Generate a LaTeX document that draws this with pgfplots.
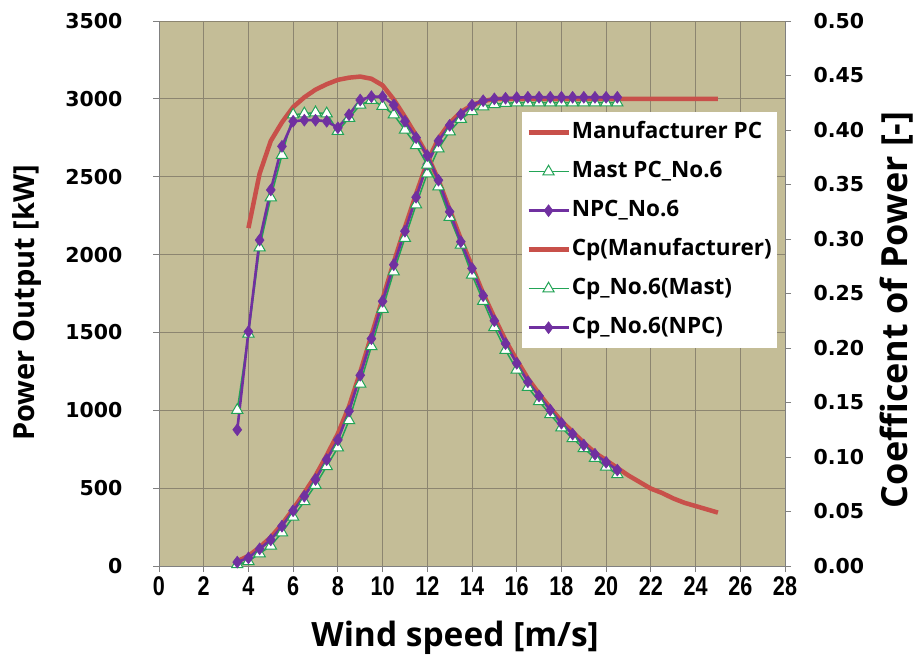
\documentclass[border=0pt]{standalone}
\usepackage{fontspec}
\setmainfont{Open Sans}
\newfontfamily\tickfont{DejaVu Sans}
\newfontfamily\xtickfont{Liberation Sans}[FakeStretch=0.8]
\usepackage{pgfplots}
\usepackage{pgfplotstable}
\pgfplotsset{compat=1.18}
\definecolor{bgc}{HTML}{C4BD97}
\definecolor{gridc}{HTML}{8C8570}
\definecolor{myred}{HTML}{C8504A}
\definecolor{mygreen}{HTML}{22A456}
\definecolor{mypurple}{HTML}{7030A0}

\pgfplotstableread{
x P
3.5 30
4.0 65
4.5 120
5.0 185
5.5 268
6.0 365
6.5 470
7.0 580
7.5 710
8.0 850
8.5 1025
9.0 1245
9.5 1480
10.0 1715
10.5 1950
11.0 2175
11.5 2390
12.0 2595
12.5 2745
13.0 2845
13.5 2915
14.0 2960
14.5 2985
15.0 3000
25.0 3000
}\manpc

\pgfplotstableread{
x P
3.5 10
4.0 30
4.5 80
5.0 130
5.5 215
6.0 315
6.5 415
7.0 520
7.5 640
8.0 760
8.5 935
9.0 1170
9.5 1410
10.0 1650
10.5 1890
11.0 2105
11.5 2320
12.0 2520
12.5 2680
13.0 2790
13.5 2870
14.0 2920
14.5 2950
15.0 2965
15.5 2972
16.0 2975
16.5 2975
17.0 2975
17.5 2975
18.0 2975
18.5 2975
19.0 2975
19.5 2975
20.0 2975
20.5 2975
}\mastpc

\pgfplotstableread{
x P
3.5 25
4.0 52
4.5 110
5.0 168
5.5 256
6.0 355
6.5 448
7.0 556
7.5 683
8.0 810
8.5 995
9.0 1225
9.5 1460
10.0 1700
10.5 1935
11.0 2150
11.5 2368
12.0 2580
12.5 2730
13.0 2830
13.5 2900
14.0 2960
14.5 2988
15.0 3000
15.5 3004
16.0 3008
16.5 3010
17.0 3010
17.5 3010
18.0 3010
18.5 3010
19.0 3010
19.5 3010
20.0 3010
20.5 3010
}\npcpc

\pgfplotstableread{
x C
4.0 0.310
4.5 0.360
5.0 0.390
5.5 0.407
6.0 0.421
6.5 0.430
7.0 0.437
7.5 0.442
8.0 0.446
8.5 0.448
9.0 0.449
9.5 0.447
10.0 0.441
10.5 0.428
11.0 0.412
11.5 0.395
12.0 0.377
12.5 0.354
13.0 0.327
13.5 0.300
14.0 0.275
14.5 0.250
15.0 0.228
15.5 0.207
16.0 0.189
16.5 0.172
17.0 0.158
17.5 0.145
18.0 0.133
18.5 0.123
19.0 0.113
19.5 0.104
20.0 0.097
20.5 0.090
21.0 0.083
21.5 0.077
22.0 0.071
22.5 0.067
23.0 0.062
23.5 0.058
24.0 0.055
24.5 0.052
25.0 0.049
}\mancp

\pgfplotstableread{
x C
3.5 0.143
4.0 0.213
4.5 0.292
5.0 0.338
5.5 0.377
6.0 0.414
6.5 0.415
7.0 0.416
7.5 0.415
8.0 0.399
8.5 0.411
9.0 0.423
9.5 0.4275
10.0 0.422
10.5 0.414
11.0 0.400
11.5 0.386
12.0 0.368
12.5 0.348
13.0 0.320
13.5 0.2945
14.0 0.267
14.5 0.243
15.0 0.219
15.5 0.198
16.0 0.180
16.5 0.164
17.0 0.151
17.5 0.139
18.0 0.127
18.5 0.117
19.0 0.108
19.5 0.099
20.0 0.091
20.5 0.084
}\mastcp

\pgfplotstableread{
x C
3.5 0.125
4.0 0.215
4.5 0.299
5.0 0.345
5.5 0.385
6.0 0.408
6.5 0.409
7.0 0.409
7.5 0.408
8.0 0.402
8.5 0.414
9.0 0.4275
9.5 0.4306
10.0 0.4306
10.5 0.423
11.0 0.408
11.5 0.393
12.0 0.3765
12.5 0.354
13.0 0.325
13.5 0.2975
14.0 0.273
14.5 0.248
15.0 0.225
15.5 0.204
16.0 0.186
16.5 0.169
17.0 0.156
17.5 0.143
18.0 0.131
18.5 0.121
19.0 0.111
19.5 0.1025
20.0 0.0952
20.5 0.088
}\npccp

\pgfplotsset{
  redst/.style={color=myred, line width=4.5pt, no marks},
  greenst/.style={color=mygreen, line width=1.5pt, mark=triangle*, mark size=6.5pt, mark options={fill=white, draw=mygreen, line width=1pt, solid}},
  purplest/.style={color=mypurple, line width=2.6pt, mark=diamond*, mark size=6pt, mark options={fill=mypurple, draw=mypurple, line width=0.5pt, solid}},
  common/.style={
    at={(159pt,95pt)}, anchor=south west,
    width=626pt, height=545pt, scale only axis,
    xmin=0, xmax=28,
    tick align=outside, major tick length=6pt,
    tick style={color=gray, line width=0.8pt},
    /pgf/number format/assume math mode=true,
  },
}

\begin{document}
\begin{tikzpicture}
\useasboundingbox (0,0) rectangle (917pt,661pt);
\begin{axis}[common,
  ymin=0, ymax=3500,
  axis background/.style={fill=bgc},
  axis x line*=bottom, axis y line*=left,
  axis line style={color=gray, line width=0.8pt},
  xtick={0,2,...,28}, ytick={0,500,...,3500},
  grid=major, major grid style={color=gridc, line width=0.9pt},
  /pgf/number format/1000 sep={},
  yticklabel style={font=\tickfont\bfseries\fontsize{20.5}{20.5}\selectfont, xshift=-27pt},
  xticklabel style={font=\xtickfont\bfseries\fontsize{27}{27}\selectfont, yshift=-1pt},
  xlabel={Wind speed [m/s]},
  ylabel={Power Output [kW]},
  every axis x label/.style={at={(axis description cs:0.473,-0.132)}, anchor=center, font=\bfseries\fontsize{33.5}{33.5}\selectfont},
  every axis y label/.style={at={(axis description cs:-0.211,0.483)}, anchor=center, rotate=90, font=\bfseries\fontsize{29}{29}\selectfont},
]
\addplot[redst] table[x=x, y=P] {\manpc};
\addplot[greenst] table[x=x, y=P] {\mastpc};
\addplot[purplest] table[x=x, y=P] {\npcpc};
\end{axis}
\begin{axis}[common,
  ymin=0, ymax=0.5,
  axis x line=none, axis y line*=right,
  axis line style={color=gray, line width=0.8pt},
  ytick={0,0.05,0.1,0.15,0.2,0.25,0.3,0.35,0.4,0.45,0.5},
  yticklabel style={font=\tickfont\bfseries\fontsize{20.5}{20.5}\selectfont, xshift=19pt,
    /pgf/number format/.cd, fixed, fixed zerofill, precision=2},
  ylabel={Coefficent of Power [-]},
  every axis y label/.style={at={(axis description cs:1.179,0.470)}, anchor=center, rotate=90, font=\bfseries\fontsize{36}{36}\selectfont},
  legend style={at={(axis description cs:0.580,0.833)}, anchor=north west,
    draw=none, fill=white, font=\bfseries\fontsize{22.5}{22.5}\selectfont,
    row sep=16pt, inner xsep=4pt, inner ysep=9pt,
    nodes={inner sep=1pt, text height=16pt, text depth=5pt}},
  legend cell align=left,
  legend image code/.code={\draw[mark repeat=2, mark phase=2, #1] plot coordinates {(0pt,0pt) (20pt,0pt) (40pt,0pt)};},
]
\addlegendimage{redst}
\addlegendentry{Manufacturer PC}
\addlegendimage{greenst}
\addlegendentry{Mast PC\_No.6}
\addlegendimage{purplest}
\addlegendentry{NPC\_No.6}
\addplot[redst] table[x=x, y=C] {\mancp};
\addlegendentry{Cp(Manufacturer)}
\addplot[greenst] table[x=x, y=C] {\mastcp};
\addlegendentry{Cp\_No.6(Mast)}
\addplot[purplest] table[x=x, y=C] {\npccp};
\addlegendentry{Cp\_No.6(NPC)}
\end{axis}
\end{tikzpicture}
\end{document}
